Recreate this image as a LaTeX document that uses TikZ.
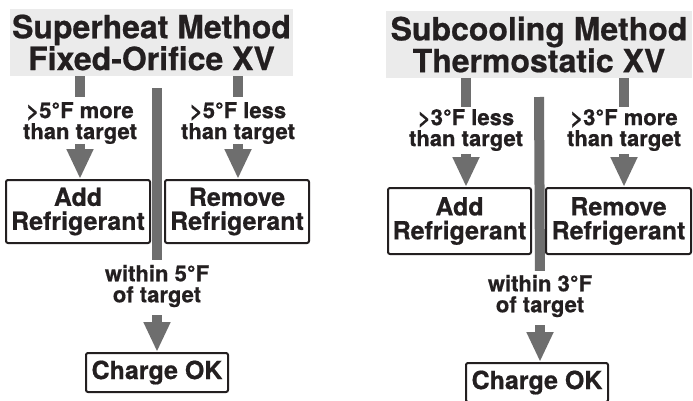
\documentclass[tikz,border=0pt]{standalone}
\usepackage{fontspec}
\setmainfont{TeX Gyre Heros}[BoldFeatures={FakeBold=0.6}]
\usetikzlibrary{arrows.meta}
\definecolor{txt}{HTML}{231F20}
\definecolor{agray}{HTML}{6E6E6E}
\definecolor{tfill}{HTML}{EBEBEB}
\begin{document}
\begin{tikzpicture}[x=1pt,y=-1pt,
  title/.style={fill=tfill, inner sep=0pt, align=center, text=txt,
    font=\fontsize{32}{30}\selectfont\bfseries},
  lbl/.style={inner sep=0pt, outer sep=0pt, align=center, text=txt,
    font=\fontsize{22}{21}\selectfont\bfseries},
  res/.style={draw=txt, line width=2pt, rounded corners=2pt, fill=white,
    inner sep=0pt, align=center, text=txt,
    font=\fontsize{25}{24}\selectfont\bfseries},
  grayline/.style={line width=10pt, draw=agray},
  grayarrow/.style={grayline, -{Triangle[width=25pt,length=30pt]}, fill=agray},
]
\clip (0,0) rectangle (693,400);
\fill[white] (0,0) rectangle (693,400);

% ---------- left: superheat ----------
\node[title, minimum width=283pt, minimum height=67pt] (t1) at (151.5,42.5)
  {Superheat Method\\Fixed-Orifice XV};
\node[lbl] (l1) at (80,123) {>5°F more\\than target};
\node[lbl] (l2) at (238,123) {>5°F less\\than target};
\node[res, minimum width=144pt, minimum height=63pt] (a1) at (78,211.5)
  {Add\\Refrigerant};
\node[res, minimum width=144pt, minimum height=63pt] (r1) at (237,211.5)
  {Remove\\Refrigerant};
\node[lbl] (w1) at (157,286) {within 5°F\\of target};
\node[res, minimum width=142pt, minimum height=39pt] (c1) at (157,372.5)
  {Charge OK};
\coordinate (b1) at (157,88);

\draw[grayline, shorten >=5pt] (t1.south -| l1.north) -- (l1.north);
\draw[grayarrow] (l1.south) -- (l1.south |- a1.north);
\draw[grayline, shorten >=5pt] (t1.south -| l2.north) -- (l2.north);
\draw[grayarrow] (l2.south) -- (l2.south |- r1.north);
\draw[grayline, shorten >=5pt] (b1) -- (w1.north);
\draw[grayarrow, shorten <=8pt] (w1.south) -- (w1.south |- c1.north);

% ---------- right: subcooling ----------
\node[title, minimum width=306pt, minimum height=67pt] (t2) at (539,44.5)
  {Subcooling Method\\Thermostatic XV};
\node[lbl] (l3) at (466,130) {>3°F less\\than target};
\node[lbl] (l4) at (624,130) {>3°F more\\than target};
\node[res, minimum width=143pt, minimum height=66pt] (a2) at (459.5,221)
  {Add\\Refrigerant};
\node[res, minimum width=145pt, minimum height=66pt] (r2) at (618.5,221)
  {Remove\\Refrigerant};
\node[lbl] (w2) at (540,296) {within 3°F\\of target};
\node[res, minimum width=142pt, minimum height=39pt] (c2) at (537,382.5)
  {Charge OK};
\coordinate (b2) at (539,97);

\draw[grayline, shorten >=2pt] (t2.south -| l3.north) -- (l3.north);
\draw[grayarrow, shorten <=3pt] (l3.south) -- (l3.south |- a2.north);
\draw[grayline, shorten >=2pt] (t2.south -| l4.north) -- (l4.north);
\draw[grayarrow, shorten <=3pt] (l4.south) -- (l4.south |- r2.north);
\draw[grayline, shorten >=4pt] (b2) -- (w2.north);
\draw[grayarrow, shorten <=8pt] (w2.south) -- (w2.south |- c2.north);
\end{tikzpicture}
\end{document}
